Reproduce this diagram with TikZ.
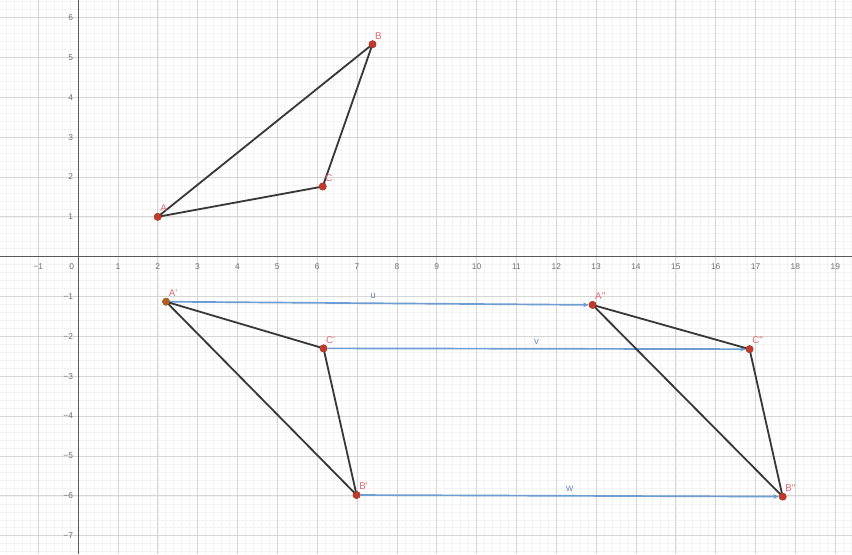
\documentclass[tikz,border=0pt]{standalone}
\usepackage{fontspec}
\setmainfont{Liberation Sans}
\usetikzlibrary{arrows.meta}
\definecolor{gridminor}{HTML}{F3F3F3}
\definecolor{gridmajor}{HTML}{D6D6D6}
\definecolor{axiscol}{HTML}{5A5A5A}
\definecolor{numcol}{HTML}{707070}
\definecolor{edgecol}{HTML}{383838}
\definecolor{veccol}{HTML}{6E9DD3}
\definecolor{ptcol}{HTML}{C0392B}
\definecolor{ptbrown}{HTML}{B0601E}
\definecolor{labcol}{HTML}{E06A74}
\definecolor{veclab}{HTML}{6C8EBF}
\tikzset{
  pt/.style={circle, fill=ptcol, draw=ptcol!70!black, line width=0.3pt, inner sep=0pt, minimum size=5.2pt},
  ptb/.style={pt, fill=ptbrown, draw=ptbrown!70!black},
  plab/.style={anchor=south west, inner sep=0pt, text=labcol, font=\fontsize{7}{8}\selectfont},
  num/.style={inner sep=0pt, text=numcol, font=\fontsize{6}{7}\selectfont},
  edge/.style={draw=edgecol, line width=1.3pt, line cap=round},
  vec/.style={draw=veccol, line width=1.2pt, -{Stealth[length=4pt,width=3.5pt]}},
  vlab/.style={inner sep=0pt, text=veclab, font=\fontsize{7}{8}\selectfont}
}
\begin{document}
\begin{tikzpicture}[x=1cm,y=1cm]
\useasboundingbox (-1.957,-7.46) rectangle (19.42,6.44);
\fill[white] (-1.957,-7.46) rectangle (19.42,6.44);
% grid
\draw[gridminor, line width=0.3pt, step=0.2] (-1.957,-7.46) grid (19.42,6.44);
\draw[gridmajor, line width=0.5pt, step=1] (-1.957,-7.46) grid (19.42,6.44);
% axes
\draw[axiscol, line width=0.6pt] (-1.957,0) -- (19.42,0);
\draw[axiscol, line width=0.6pt] (0,-7.46) -- (0,6.44);
% axis numbers
\node[num] at (-1,-0.24) {−1};
\foreach \k in {1,2,...,19} \node[num] at (\k,-0.24) {\k};
\node[num] at (-0.16,-0.24) {0};
\foreach \k in {1,2,...,7} \node[num, anchor=east] at (-0.12,-\k) {−\k};
\foreach \k in {1,2,...,6} \node[num, anchor=east] at (-0.12,\k) {\k};
% points
\node[pt] (A) at (2,1) {};
\node[pt] (B) at (7.39,5.33) {};
\node[pt] (C) at (6.14,1.76) {};
\node[ptb] (A1) at (2.21,-1.13) {};
\node[pt] (C1) at (6.16,-2.30) {};
\node[pt] (B1) at (6.99,-5.98) {};
\node[pt] (A2) at (12.91,-1.21) {};
\node[pt] (C2) at (16.85,-2.32) {};
\node[pt] (B2) at (17.68,-6.02) {};
% vectors
\draw[vec] (A1) -- (A2) node[vlab, pos=0.485, above=2.5pt] {u};
\draw[vec] (C1) -- (C2) node[vlab, pos=0.5, above=2.5pt] {v};
\draw[vec] (B1) -- (B2) node[vlab, pos=0.5, above=2.5pt] {w};
% triangles
\draw[edge] (A.center) -- (B.center) -- (C.center) -- cycle;
\draw[edge] (A1.center) -- (B1.center) -- (C1.center) -- cycle;
\draw[edge] (A2.center) -- (B2.center) -- (C2.center) -- cycle;
% redraw points on top
\foreach \p in {A,B,C,C1,B1,A2,C2,B2} \fill[ptcol] (\p) circle (2.6pt);
\fill[ptbrown] (A1) circle (2.6pt);
% labels
\node[plab] (lA) at ([shift={(0.06,0.12)}]A.center) {A};
\node[plab] (lB) at ([shift={(0.06,0.12)}]B.center) {B};
\node[plab] (lC) at ([shift={(0.06,0.12)}]C.center) {C};
\node[plab] (lA1) at ([shift={(0.06,0.12)}]A1.center) {A\textquotesingle};
\node[plab] (lC1) at ([shift={(0.06,0.12)}]C1.center) {C\textquotesingle};
\node[plab] (lB1) at ([shift={(0.06,0.12)}]B1.center) {B\textquotesingle};
\node[plab] (lA2) at ([shift={(0.06,0.12)}]A2.center) {A\textquotesingle\textquotesingle};
\node[plab] (lC2) at ([shift={(0.06,0.12)}]C2.center) {C\textquotesingle\textquotesingle};
\node[plab] (lB2) at ([shift={(0.06,0.12)}]B2.center) {B\textquotesingle\textquotesingle};
\end{tikzpicture}
\end{document}
